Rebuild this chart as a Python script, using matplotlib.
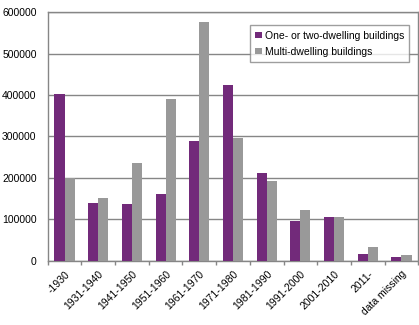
import numpy as np
import matplotlib
matplotlib.use('Agg')
import matplotlib.pyplot as plt

plt.rcParams['font.family'] = ['Liberation Sans', 'DejaVu Sans']

periods = ['-1930', '1931-1940', '1941-1950', '1951-1960', '1961-1970', '1971-1980',
           '1981-1990', '1991-2000', '2001-2010', '2011-', 'data missing']
one_two = [402000, 140000, 137000, 162000, 289000, 424000, 211000, 96000, 106000, 16000, 9000]
multi = [200000, 152000, 237000, 391000, 577000, 296000, 193000, 123000, 106000, 33000, 14000]

purple = '#722A7A'
grey = '#999999'
edge = '#868686'

fig = plt.figure(figsize=(4.19, 3.25), dpi=100)
ax = fig.add_axes([47.7 / 419, 1 - 260.7 / 325, 370.6 / 419, 248.4 / 325])

x = np.arange(len(periods))
w = 0.3
ax.bar(x - w / 2, one_two, w, color=purple, label='One- or two-dwelling buildings', zorder=3)
ax.bar(x + w / 2, multi, w, color=grey, label='Multi-dwelling buildings', zorder=3)

ax.set_xlim(-0.5, len(periods) - 0.5)
ax.set_ylim(0, 600000)
ax.set_yticks(np.arange(0, 600001, 100000))
ax.set_yticklabels([str(v) for v in range(0, 600001, 100000)], fontsize=7.5)
ax.yaxis.grid(True, color=edge, lw=1, zorder=0)
ax.tick_params(axis='y', length=0, pad=8)

ax.set_xticks(x)
ax.set_xticklabels(periods, fontsize=7.5, rotation=45, ha='right', rotation_mode='anchor')
ax.set_xticks(np.arange(-0.5, len(periods)), minor=True)
ax.tick_params(axis='x', which='major', length=0, pad=6)
ax.tick_params(axis='x', which='minor', length=3, color=edge, width=1)

for s in ax.spines.values():
    s.set_color(edge)
    s.set_linewidth(1)

leg = ax.legend(loc='upper right', bbox_to_anchor=(409.3 / 419, 1 - 25.3 / 325),
                bbox_transform=fig.transFigure, fontsize=7.5, frameon=True, fancybox=False,
                handlelength=0.6, handleheight=0.6, handletextpad=0.3, borderpad=0.5,
                labelspacing=0.6, borderaxespad=0)
leg.get_frame().set_edgecolor(edge)
leg.get_frame().set_linewidth(1)

fig.savefig('out.png', dpi=100)
